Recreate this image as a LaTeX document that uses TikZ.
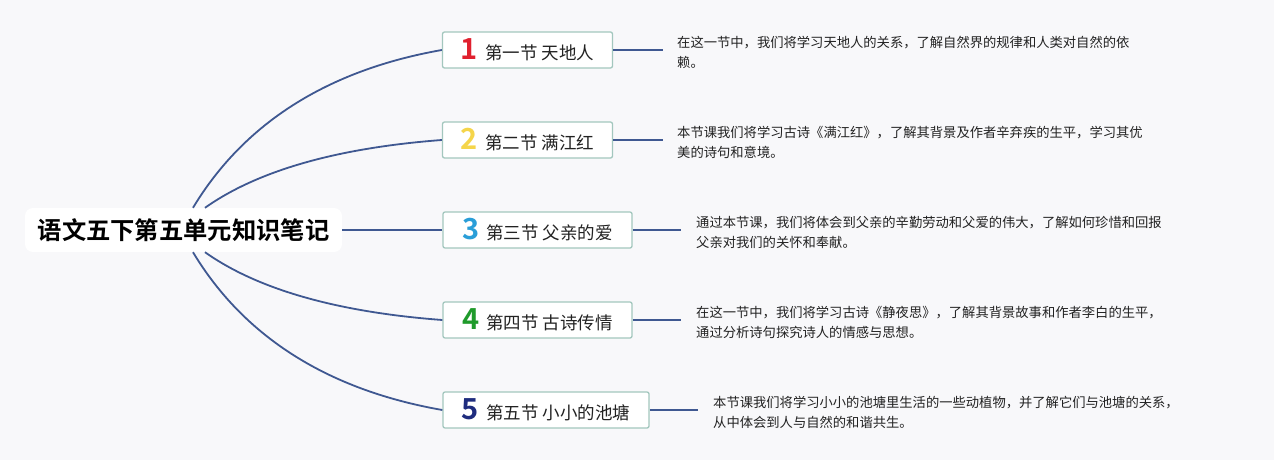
\documentclass[tikz,border=0pt]{standalone}
\usepackage{fontspec}
\setmainfont{Noto Sans CJK SC}
\newfontfamily\cjkbold{Noto Sans CJK SC Bold}
\definecolor{bgcol}{HTML}{F8F8FA}
\definecolor{linecol}{HTML}{3F5891}
\definecolor{boxborder}{HTML}{A3C7BE}
\definecolor{nred}{HTML}{E0202E}
\definecolor{nyellow}{HTML}{F5D54A}
\definecolor{nblue}{HTML}{2A9ED8}
\definecolor{ngreen}{HTML}{1F9A2B}
\definecolor{nnavy}{HTML}{1E2C7E}
\definecolor{txtcol}{HTML}{222222}
\newcommand{\secnum}[2]{{\cjkbold\fontsize{29}{29}\selectfont\color{#1}#2}\hspace{7pt}}
\begin{document}
\begin{tikzpicture}[x=1pt,y=-1pt,
  rootbox/.style={fill=white, rounded corners=8pt, minimum width=317pt, minimum height=44pt,
    inner sep=0pt, font=\cjkbold\fontsize{24.3}{26}\selectfont, text=black},
  secbox/.style={draw=boxborder, line width=1.3pt, fill=white, rounded corners=2pt,
    minimum height=36pt, inner sep=0pt, font=\fontsize{17.5}{18}\selectfont, text=txtcol},
  desc/.style={anchor=west, inner sep=0pt, align=left, text=txtcol,
    font=\fontsize{13.3}{20}\selectfont},
  conn/.style={draw=linecol, line width=1.8pt}
]
\fill[bgcol] (0,0) rectangle (1274,460);
\useasboundingbox (0,0) rectangle (1274,460);

\node[rootbox] (root) at (183.5,230) {语文五下第五单元知识笔记};

\node[secbox, minimum width=170pt] (b1) at (527.5,50) {\secnum{nred}{1}第一节 天地人};
\node[secbox, minimum width=170pt] (b2) at (527.5,140) {\secnum{nyellow}{2}第二节 满江红};
\node[secbox, minimum width=189pt] (b3) at (537.5,230) {\secnum{nblue}{3}第三节 父亲的爱};
\node[secbox, minimum width=189pt] (b4) at (537.5,320) {\secnum{ngreen}{4}第四节 古诗传情};
\node[secbox, minimum width=206pt] (b5) at (546,410) {\secnum{nnavy}{5}第五节 小小的池塘};

\coordinate (e1) at (663,50);
\coordinate (e2) at (663,140);
\coordinate (e3) at (681,230);
\coordinate (e4) at (681,320);
\coordinate (e5) at (698,410);

\coordinate (s1) at ([xshift=9.5pt]root.north);
\coordinate (s2) at ([xshift=21.5pt]root.north);
\coordinate (s4) at ([xshift=21.5pt]root.south);
\coordinate (s5) at ([xshift=9.5pt]root.south);

\draw[conn] (s1) .. controls (244,123) and (328,70) .. (b1.west);
\draw[conn] (s2) .. controls (257,171) and (336,148) .. (b2.west);
\draw[conn] (root.east) -- (b3.west);
\draw[conn] (s4) .. controls (257,289) and (336,312) .. (b4.west);
\draw[conn] (s5) .. controls (244,337) and (328,390) .. (b5.west);

\draw[conn] (b1.east) -- (e1);
\draw[conn] (b2.east) -- (e2);
\draw[conn] (b3.east) -- (e3);
\draw[conn] (b4.east) -- (e4);
\draw[conn] (b5.east) -- (e5);

\node[desc] (d1) at (677,52) {在这一节中，我们将学习天地人的关系，了解自然界的规律和人类对自然的依\\赖。};
\node[desc] (d2) at (677,142) {本节课我们将学习古诗《满江红》，了解其背景及作者辛弃疾的生平，学习其优\\美的诗句和意境。};
\node[desc] (d3) at (696,232) {通过本节课，我们将体会到父亲的辛勤劳动和父爱的伟大，了解如何珍惜和回报\\父亲对我们的关怀和奉献。};
\node[desc] (d4) at (696,322) {在这一节中，我们将学习古诗《静夜思》，了解其背景故事和作者李白的生平，\\通过分析诗句探究诗人的情感与思想。};
\node[desc] (d5) at (713,412) {本节课我们将学习小小的池塘里生活的一些动植物，并了解它们与池塘的关系，\\从中体会到人与自然的和谐共生。};
\end{tikzpicture}
\end{document}
